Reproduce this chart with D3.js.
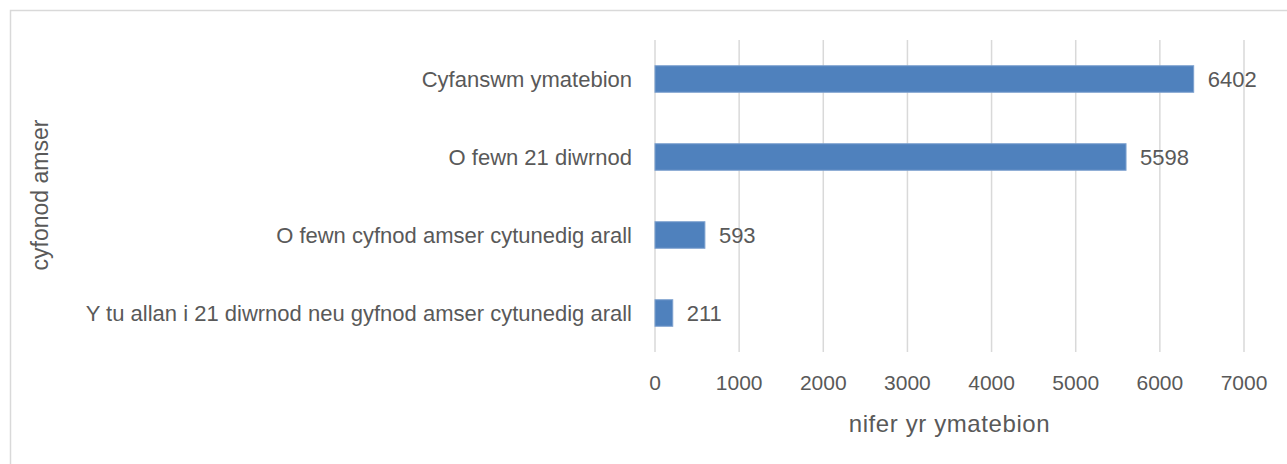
<!DOCTYPE html>
<html>
<head>
<meta charset="utf-8">
<script src="https://cdn.jsdelivr.net/npm/d3@7"></script>
<style>
  body { margin: 0; background: #fff; }
  text { font-family: "Liberation Sans", Arial, sans-serif; fill: #595959; }
</style>
</head>
<body>
<script>
// data
var categories = [
  "Cyfanswm ymatebion",
  "O fewn 21 diwrnod",
  "O fewn cyfnod amser cytunedig arall",
  "Y tu allan i 21 diwrnod neu gyfnod amser cytunedig arall"
];
var values = [6402, 5598, 593, 211];
var xTicks = [0, 1000, 2000, 3000, 4000, 5000, 6000, 7000];

var width = 1287, height = 464;

var svg = d3.select("body").append("svg")
  .attr("width", width)
  .attr("height", height);

// chart frame
svg.append("rect")
  .attr("x", 10.5).attr("y", 10.5)
  .attr("width", 1290).attr("height", 470)
  .attr("fill", "#fff")
  .attr("stroke", "#d9d9d9")
  .attr("stroke-width", 1.5);

var plot = { left: 655, right: 1244, top: 40, bottom: 352 };

var x = d3.scaleLinear()
  .domain([0, 7000])
  .range([plot.left, plot.right]);

var y = d3.scaleBand()
  .domain(categories)
  .range([plot.top, plot.bottom])
  .paddingInner(0.66)
  .paddingOuter(0.33);

// gridlines
svg.append("g").selectAll("line")
  .data(xTicks)
  .enter().append("line")
  .attr("x1", function(d){ return x(d); })
  .attr("x2", function(d){ return x(d); })
  .attr("y1", plot.top)
  .attr("y2", plot.bottom)
  .attr("stroke", "#d9d9d9")
  .attr("stroke-width", 1.5);

// bars
svg.append("g").selectAll("rect")
  .data(values)
  .enter().append("rect")
  .attr("x", x(0))
  .attr("y", function(d, i){ return y(categories[i]); })
  .attr("width", function(d){ return x(d) - x(0); })
  .attr("height", y.bandwidth())
  .attr("fill", "#4f81bd")
  .attr("stroke", "#7da1cf")
  .attr("stroke-width", 1);

// value labels
svg.append("g").selectAll("text")
  .data(values)
  .enter().append("text")
  .attr("x", function(d){ return x(d) + 14; })
  .attr("y", function(d, i){ return y(categories[i]) + y.bandwidth() / 2; })
  .attr("dy", "0.35em")
  .attr("font-size", 22)
  .text(function(d){ return d; });

// category labels
svg.append("g").selectAll("text")
  .data(categories)
  .enter().append("text")
  .attr("x", plot.left - 23)
  .attr("y", function(d){ return y(d) + y.bandwidth() / 2; })
  .attr("dy", "0.35em")
  .attr("text-anchor", "end")
  .attr("font-size", 22)
  .text(function(d){ return d; });

// x tick labels
svg.append("g").selectAll("text")
  .data(xTicks)
  .enter().append("text")
  .attr("x", function(d){ return x(d); })
  .attr("y", 383)
  .attr("dy", "0.35em")
  .attr("text-anchor", "middle")
  .attr("font-size", 21)
  .text(function(d){ return d; });

// axis titles
svg.append("text")
  .attr("x", (plot.left + plot.right) / 2)
  .attr("y", 424)
  .attr("dy", "0.35em")
  .attr("text-anchor", "middle")
  .attr("font-size", 24)
  .attr("letter-spacing", 0.6)
  .text("nifer yr ymatebion");

svg.append("text")
  .attr("transform", "translate(40," + 195 + ") rotate(-90)")
  .attr("dy", "0.35em")
  .attr("text-anchor", "middle")
  .attr("font-size", 23)
  .text("cyfonod amser");
</script>
</body>
</html>
